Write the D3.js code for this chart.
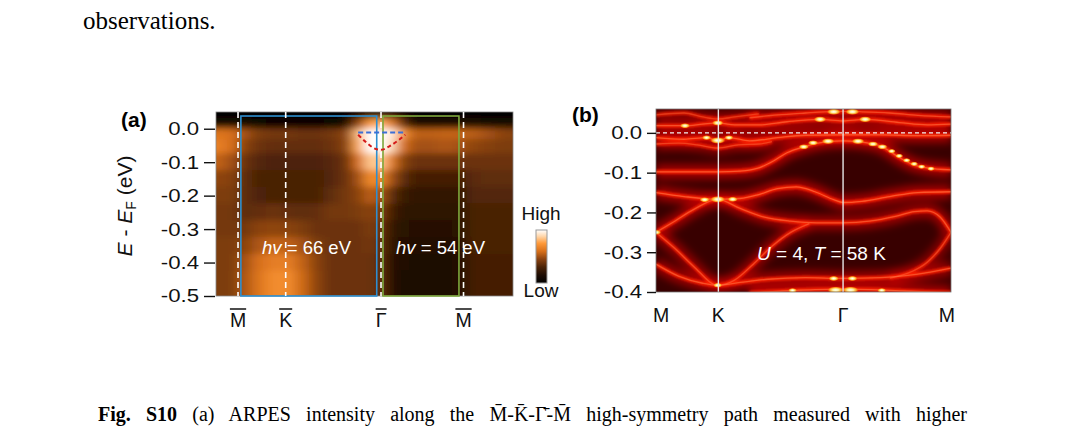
<!DOCTYPE html>
<html>
<head>
<meta charset="utf-8">
<script src="https://cdn.jsdelivr.net/npm/d3@7"></script>
<style>
  body { margin: 0; background: #fff; }
  svg { display: block; }
</style>
</head>
<body>
<svg id="fig" width="1080" height="444"></svg>
<script>
// ---------- data ----------
const bodyText = "observations.";
const captionBold = "Fig. S10";
const captionRest = " (a) ARPES intensity along the M\u0304-K\u0304-\u0393\u0304-M\u0304 high-symmetry path measured with higher";

// high-symmetry path, k in units along M-K-Γ-M
const pathLabels = ["M", "K", "\u0393", "M"];
const pathK = [0, 1 / 3, 1, 1.577];

// (a) ARPES map, intensity 0 (low) .. 1 (high)
const arpesK = [-0.15, -0.05, 0.05, 0.15, 0.25, 0.35, 0.45, 0.55, 0.65, 0.75, 0.85, 0.92,
                1.0, 1.08, 1.15, 1.25, 1.35, 1.45, 1.55, 1.65, 1.75, 1.85, 1.92];
const arpesE = [0.045, 0.015, -0.015, -0.05, -0.1, -0.15, -0.2, -0.25, -0.3, -0.35, -0.4, -0.45, -0.5];
const arpesI = [
  [0, 0, 0, 0, 0, 0, 0, 0, 0, 0, 0.02, 0.08, 0.1, 0.06, 0.02, 0, 0, 0, 0, 0, 0, 0, 0],
  [0.12, 0.12, 0.1, 0.08, 0.06, 0.06, 0.06, 0.06, 0.08, 0.12, 0.45, 0.75, 0.8, 0.65, 0.35, 0.15, 0.14, 0.14, 0.14, 0.14, 0.12, 0.1, 0.1],
  [0.62, 0.6, 0.5, 0.42, 0.4, 0.4, 0.38, 0.38, 0.4, 0.45, 0.82, 1.0, 1.0, 0.95, 0.72, 0.55, 0.55, 0.56, 0.56, 0.54, 0.5, 0.46, 0.44],
  [0.66, 0.6, 0.45, 0.38, 0.36, 0.36, 0.36, 0.36, 0.38, 0.44, 0.78, 1.0, 1.0, 0.9, 0.6, 0.5, 0.5, 0.52, 0.5, 0.46, 0.44, 0.42, 0.42],
  [0.56, 0.5, 0.38, 0.32, 0.31, 0.31, 0.31, 0.31, 0.33, 0.38, 0.6, 0.85, 0.85, 0.65, 0.45, 0.38, 0.38, 0.38, 0.38, 0.38, 0.38, 0.38, 0.38],
  [0.46, 0.44, 0.35, 0.3, 0.3, 0.3, 0.3, 0.3, 0.32, 0.38, 0.5, 0.7, 0.68, 0.5, 0.35, 0.28, 0.28, 0.28, 0.28, 0.34, 0.35, 0.35, 0.35],
  [0.42, 0.42, 0.35, 0.31, 0.3, 0.3, 0.3, 0.3, 0.35, 0.4, 0.45, 0.55, 0.5, 0.35, 0.25, 0.22, 0.22, 0.22, 0.22, 0.32, 0.32, 0.32, 0.32],
  [0.4, 0.4, 0.35, 0.36, 0.38, 0.36, 0.35, 0.36, 0.4, 0.4, 0.42, 0.45, 0.42, 0.28, 0.2, 0.2, 0.2, 0.2, 0.2, 0.3, 0.3, 0.3, 0.3],
  [0.4, 0.4, 0.4, 0.45, 0.46, 0.45, 0.42, 0.38, 0.38, 0.38, 0.38, 0.42, 0.38, 0.22, 0.19, 0.18, 0.18, 0.18, 0.19, 0.3, 0.3, 0.3, 0.3],
  [0.42, 0.42, 0.45, 0.52, 0.56, 0.55, 0.5, 0.42, 0.38, 0.38, 0.38, 0.4, 0.36, 0.2, 0.18, 0.17, 0.17, 0.17, 0.18, 0.3, 0.3, 0.3, 0.3],
  [0.42, 0.42, 0.5, 0.6, 0.65, 0.65, 0.56, 0.45, 0.38, 0.38, 0.38, 0.38, 0.35, 0.18, 0.16, 0.15, 0.15, 0.15, 0.17, 0.28, 0.28, 0.28, 0.28],
  [0.42, 0.42, 0.52, 0.62, 0.7, 0.7, 0.58, 0.46, 0.38, 0.38, 0.38, 0.38, 0.35, 0.18, 0.15, 0.15, 0.15, 0.15, 0.17, 0.28, 0.28, 0.28, 0.28],
  [0.42, 0.42, 0.52, 0.62, 0.7, 0.7, 0.58, 0.46, 0.38, 0.38, 0.38, 0.38, 0.35, 0.18, 0.15, 0.15, 0.15, 0.15, 0.17, 0.28, 0.28, 0.28, 0.28]
];
const colourStops = [0, 0.15, 0.3, 0.45, 0.6, 0.75, 0.88, 1];
const colourValues = ["#000000", "#1e0d03", "#4a2206", "#8a4210", "#d8701a", "#ff9a3a", "#ffd6aa", "#ffffff"];

const aTicks = [0, -0.1, -0.2, -0.3, -0.4, -0.5];
const aTickLabels = ["0.0", "-0.1", "-0.2", "-0.3", "-0.4", "-0.5"];
const box66K = [0.02, 0.97];
const box54K = [1.014, 1.545];
const boxE = [-0.5, 0.038];
const redK = [0.84, 0.9, 0.96, 1.0, 1.06, 1.12, 1.17];
const redE = [-0.018, -0.042, -0.06, -0.063, -0.052, -0.035, -0.018];
const blueK = [0.84, 1.17];
const blueE = [-0.011, -0.011];

// (b) calculated bands, [k, E] pairs
const bandTop = [[0.5, 0.038], [0.65, 0.045], [0.8, 0.05], [0.9, 0.053], [1.0, 0.054], [1.1, 0.053], [1.25, 0.05], [1.4, 0.044], [1.577, 0.04]];
const bandTopLeft = [[0, 0.045], [0.15, 0.05], [0.25, 0.04], [0.33, 0.035], [0.42, 0.04], [0.55, 0.048]];
const bandU1 = [[0, 0.018], [0.155, 0.018], [0.25, 0.022], [0.33, 0.025], [0.42, 0.02], [0.55, 0.02], [0.7, 0.028], [0.877, 0.034], [1.0, 0.03], [1.118, 0.034], [1.3, 0.026], [1.45, 0.02], [1.577, 0.022]];
const bandD1 = [[0, -0.012], [0.15, -0.016], [0.27, -0.012], [0.33, -0.019], [0.39, -0.012], [0.5, -0.02], [0.65, -0.012], [0.8, -0.006], [1.0, -0.005], [1.2, -0.005], [1.4, -0.007], [1.577, -0.006]];
const bandD2 = [[0, -0.028], [0.12, -0.026], [0.22, -0.03], [0.33, -0.038], [0.44, -0.03], [0.55, -0.028], [0.62, -0.022]];
const bandDome = [[0, -0.098], [0.2, -0.098], [0.33, -0.098], [0.45, -0.096], [0.55, -0.088], [0.63, -0.07], [0.7, -0.05], [0.79, -0.035], [0.92, -0.022], [1.0, -0.02], [1.08, -0.022], [1.21, -0.035], [1.3, -0.062], [1.37, -0.079], [1.45, -0.088], [1.577, -0.093]];
const bandMid = [[0, -0.15], [0.15, -0.16], [0.33, -0.167], [0.45, -0.165], [0.55, -0.155], [0.65, -0.14], [0.75, -0.136], [0.85, -0.148], [0.95, -0.168], [1.0, -0.175], [1.1, -0.172], [1.25, -0.16], [1.4, -0.15], [1.577, -0.148]];
const bandLow = [[0, -0.25], [0.1, -0.222], [0.2, -0.193], [0.33, -0.167], [0.45, -0.19], [0.58, -0.212], [0.72, -0.222], [0.86, -0.226], [1.0, -0.226], [1.14, -0.222], [1.28, -0.21], [1.38, -0.198], [1.45, -0.196], [1.52, -0.212], [1.577, -0.25]];
const bandArc = [[0, -0.25], [0.1, -0.29], [0.2, -0.335], [0.33, -0.383], [0.42, -0.37], [0.52, -0.33], [0.62, -0.285], [0.72, -0.25], [0.82, -0.228]];
const bandBottom = [[0, -0.33], [0.12, -0.36], [0.25, -0.378], [0.33, -0.383], [0.45, -0.376], [0.6, -0.368], [0.8, -0.364], [1.0, -0.366], [1.2, -0.364], [1.4, -0.355], [1.577, -0.34]];
const bandFloor = [[0.5, -0.402], [0.7, -0.397], [0.85, -0.394], [1.0, -0.393], [1.15, -0.394], [1.3, -0.397], [1.45, -0.4], [1.577, -0.402]];
const bandRight = [[1.25, -0.365], [1.35, -0.352], [1.45, -0.325], [1.52, -0.29], [1.577, -0.25]];
const bands = [bandTop, bandTopLeft, bandU1, bandD1, bandD2, bandDome, bandMid, bandLow, bandArc, bandBottom, bandFloor, bandRight];
const bandWeight = [0.7, 0.5, 0.8, 0.9, 0.6, 0.9, 0.9, 0.8, 0.7, 0.8, 0.9, 0.6];

// bright spots on the bands: [k, E, strength]
const brightSpots = [
  [0.155, 0.018, 0.5], [0.33, 0.025, 0.6], [0.33, -0.019, 0.9], [0.27, -0.012, 0.4], [0.39, -0.012, 0.4],
  [0.33, -0.167, 0.9], [0.26, -0.168, 0.5], [0.41, -0.167, 0.5],
  [0.877, 0.034, 0.7], [1.118, 0.034, 0.7], [0.95, 0.053, 0.8], [1.05, 0.053, 0.8],
  [0.79, -0.035, 0.5], [0.84, -0.025, 0.5], [0.92, -0.021, 0.7], [1.08, -0.021, 0.7], [1.16, -0.028, 0.5], [1.21, -0.035, 0.5],
  [1.26, -0.046, 0.3], [1.3, -0.058, 0.3], [1.34, -0.069, 0.3], [1.38, -0.078, 0.3], [1.42, -0.085, 0.3], [1.47, -0.09, 0.3],
  [0.95, -0.366, 0.5], [1.05, -0.366, 0.5], [0.96, -0.395, 1], [1.04, -0.395, 1],
  [0.73, -0.396, 0.4], [1.207, -0.396, 0.4], [0, -0.25, 0.5], [0.33, -0.383, 0.4]
];
const bTicks = [0, -0.1, -0.2, -0.3, -0.4];
const bTickLabels = ["0.0", "-0.1", "-0.2", "-0.3", "-0.4"];

// ---------- drawing ----------
const sans = '"Liberation Sans", Arial, Helvetica, sans-serif';
const serif = '"Liberation Serif", "Times New Roman", serif';
const svg = d3.select("#fig");
const defs = svg.append("defs");

// page text
svg.append("text")
    .attr("x", 83).attr("y", 29)
    .attr("font-family", serif).attr("font-size", 25)
    .text(bodyText);

const cap = svg.append("text")
    .attr("x", 98).attr("y", 421)
    .attr("font-family", serif).attr("font-size", 20);
cap.append("tspan").attr("font-weight", "bold").text(captionBold);
cap.append("tspan").text(captionRest);
// justify the caption line like the page
const naturalWidth = cap.node().getComputedTextLength();
const nSpaces = (captionBold + captionRest).split(" ").length - 1;
cap.style("word-spacing", ((967 - 98 - naturalWidth) / nSpaces) + "px");

function addAxis(g, scale, ticks, labels, size) {
    g.call(d3.axisLeft(scale).tickValues(ticks).tickSize(size).tickPadding(4)
        .tickFormat((d, i) => labels[i]));
    g.attr("font-family", null).attr("font-size", null);
    g.select(".domain").remove();
    g.selectAll(".tick line").attr("stroke", "#111").attr("stroke-width", 1.4);
    g.selectAll(".tick text")
        .attr("font-family", sans).attr("font-size", 18.5).attr("fill", "#111")
        .attr("x", -(size + 5) / 1.2)
        .attr("transform", "scale(1.2,1)");
}

function addPathLabels(g, scale, y, overline) {
    pathLabels.forEach((lab, i) => {
        const t = g.append("text")
            .attr("x", scale(pathK[i]))
            .attr("y", y)
            .attr("text-anchor", "middle")
            .attr("font-family", sans).attr("font-size", 19.5).attr("fill", "#111")
            .text(lab);
        if (overline) {
            const bb = t.node().getBBox();
            g.append("line")
                .attr("x1", bb.x).attr("x2", bb.x + bb.width)
                .attr("y1", y - 18).attr("y2", y - 18)
                .attr("stroke", "#111").attr("stroke-width", 1.5);
        }
    });
}

// ----- panel (a) -----
const xa = d3.scaleLinear().domain([-0.154, 1.923]).range([216, 513]);
const ya = d3.scaleLinear().domain([-0.5, 0.05]).range([296, 112]);
const colour = d3.scaleLinear().domain(colourStops).range(colourValues).clamp(true);

defs.append("clipPath").attr("id", "clipA")
    .append("rect")
    .attr("x", xa.range()[0]).attr("y", ya.range()[1])
    .attr("width", xa.range()[1] - xa.range()[0])
    .attr("height", ya.range()[0] - ya.range()[1]);
defs.append("filter").attr("id", "smoothA")
    .attr("x", "-10%").attr("y", "-10%").attr("width", "120%").attr("height", "120%")
    .append("feGaussianBlur").attr("stdDeviation", "6 3");

function edges(vals, sc, lo, hi) {
    return vals.map((v, i) => {
        const a = i === 0 ? lo : (sc(vals[i - 1]) + sc(v)) / 2;
        const b = i === vals.length - 1 ? hi : (sc(v) + sc(vals[i + 1])) / 2;
        return [Math.min(a, b), Math.max(a, b)];
    });
}
const colEdges = edges(arpesK, xa, xa.range()[0] - 25, xa.range()[1] + 25);
const rowEdges = edges(arpesE, ya, ya.range()[1] - 25, ya.range()[0] + 25);
const cells = [];
arpesI.forEach((row, j) => row.forEach((v, i) => cells.push({ i, j, v })));

const gA = svg.append("g");
const mapA = gA.append("g").attr("clip-path", "url(#clipA)");
mapA.append("rect")
    .attr("x", 200).attr("y", 100).attr("width", 330).attr("height", 210)
    .attr("fill", "#1a0b02");
mapA.append("g").attr("filter", "url(#smoothA)")
    .selectAll("rect").data(cells).join("rect")
    .attr("x", d => colEdges[d.i][0] - 0.5)
    .attr("y", d => rowEdges[d.j][0] - 0.5)
    .attr("width", d => colEdges[d.i][1] - colEdges[d.i][0] + 1)
    .attr("height", d => rowEdges[d.j][1] - rowEdges[d.j][0] + 1)
    .attr("fill", d => colour(d.v));

gA.append("rect")
    .attr("x", xa.range()[0]).attr("y", ya.range()[1])
    .attr("width", xa.range()[1] - xa.range()[0])
    .attr("height", ya.range()[0] - ya.range()[1])
    .attr("fill", "none").attr("stroke", "#888").attr("stroke-width", 0.8);

// photon-energy windows
[[box66K, "#2e8fcf"], [box54K, "#7ea83c"]].forEach(([kr, c]) => {
    gA.append("rect")
        .attr("x", xa(kr[0])).attr("y", ya(boxE[1]))
        .attr("width", xa(kr[1]) - xa(kr[0]))
        .attr("height", ya(boxE[0]) - ya(boxE[1]))
        .attr("fill", "none").attr("stroke", c).attr("stroke-width", 1.6);
});

// high-symmetry dashed lines
gA.selectAll(".sym").data(pathK).join("line")
    .attr("x1", d => xa(d)).attr("x2", d => xa(d))
    .attr("y1", ya.range()[1]).attr("y2", ya.range()[0])
    .attr("stroke", "#fff").attr("stroke-width", 1.6)
    .attr("stroke-dasharray", "6,4");

const lineA = d3.line().x(d => xa(d[0])).y(d => ya(d[1])).curve(d3.curveMonotoneX);
gA.append("path")
    .attr("d", lineA(redK.map((k, i) => [k, redE[i]])))
    .attr("fill", "none").attr("stroke", "#d41a1a").attr("stroke-width", 2)
    .attr("stroke-dasharray", "4,3");
gA.append("path")
    .attr("d", lineA(blueK.map((k, i) => [k, blueE[i]])))
    .attr("fill", "none").attr("stroke", "#3b6fd6").attr("stroke-width", 2)
    .attr("stroke-dasharray", "5,3");

function hvLabel(x, energy) {
    const t = gA.append("text")
        .attr("x", x).attr("y", 254)
        .attr("font-family", sans).attr("font-size", 18.5).attr("fill", "#fff");
    t.append("tspan").attr("font-style", "italic").text("hv");
    t.append("tspan").text(" = " + energy + " eV");
}
hvLabel(262, 66);
hvLabel(396, 54);

addAxis(svg.append("g").attr("transform", "translate(215,0)"), ya, aTicks, aTickLabels, 11);
addPathLabels(svg.append("g"), xa, 327, true);

const yLab = svg.append("text")
    .attr("transform", "translate(132,206) rotate(-90)")
    .attr("text-anchor", "middle")
    .attr("font-family", sans).attr("font-size", 21).attr("fill", "#111");
yLab.append("tspan").attr("font-style", "italic").text("E");
yLab.append("tspan").text(" - ");
yLab.append("tspan").attr("font-style", "italic").text("E");
yLab.append("tspan").attr("font-size", 14).attr("dy", 4).text("F");
yLab.append("tspan").attr("dy", -4).text(" (eV)");

svg.append("text").attr("x", 121).attr("y", 127)
    .attr("font-family", sans).attr("font-size", 21).attr("font-weight", "bold")
    .text("(a)");

// colour bar
const grad = defs.append("linearGradient").attr("id", "barGrad")
    .attr("x1", "0%").attr("x2", "0%").attr("y1", "100%").attr("y2", "0%");
colourStops.forEach((s, i) => grad.append("stop")
    .attr("offset", (s * 100) + "%").attr("stop-color", colourValues[i]));
svg.append("rect")
    .attr("x", 536).attr("y", 230).attr("width", 11).attr("height", 53)
    .attr("fill", "url(#barGrad)").attr("stroke", "#999").attr("stroke-width", 1);
svg.append("text").attr("x", 541).attr("y", 220).attr("text-anchor", "middle")
    .attr("font-family", sans).attr("font-size", 19).attr("fill", "#111").text("High");
svg.append("text").attr("x", 541).attr("y", 297).attr("text-anchor", "middle")
    .attr("font-family", sans).attr("font-size", 19).attr("fill", "#111").text("Low");

// ----- panel (b) -----
const xb = d3.scaleLinear().domain([0, 1.577]).range([656, 951]);
const yb = d3.scaleLinear().domain([-0.4, 0.06]).range([292, 109]);

defs.append("clipPath").attr("id", "clipB")
    .append("rect")
    .attr("x", xb.range()[0]).attr("y", yb.range()[1])
    .attr("width", xb.range()[1] - xb.range()[0])
    .attr("height", yb.range()[0] - yb.range()[1]);
defs.append("filter").attr("id", "glowB")
    .attr("x", "-20%").attr("y", "-20%").attr("width", "140%").attr("height", "140%")
    .append("feGaussianBlur").attr("stdDeviation", 4);
defs.append("filter").attr("id", "softB")
    .append("feGaussianBlur").attr("stdDeviation", 1);
const spotGrad = defs.append("radialGradient").attr("id", "spotGrad");
[[0, "#ffffff", 1], [0.35, "#fff2a0", 1], [0.7, "#ffb020", 0.85], [1, "#ff4000", 0]].forEach(s =>
    spotGrad.append("stop").attr("offset", s[0]).attr("stop-color", s[1]).attr("stop-opacity", s[2]));

const gB = svg.append("g").attr("clip-path", "url(#clipB)");
gB.append("rect")
    .attr("x", xb.range()[0]).attr("y", yb.range()[1])
    .attr("width", xb.range()[1] - xb.range()[0])
    .attr("height", yb.range()[0] - yb.range()[1])
    .attr("fill", "#380000");

const lineB = d3.line().x(d => xb(d[0])).y(d => yb(d[1])).curve(d3.curveMonotoneX);
gB.append("g").attr("filter", "url(#glowB)")
    .selectAll("path").data(bands).join("path")
    .attr("d", lineB).attr("fill", "none")
    .attr("stroke", "#dc0000").attr("stroke-width", 14)
    .attr("stroke-opacity", (d, i) => 0.75 * bandWeight[i]);
gB.append("g").attr("filter", "url(#softB)")
    .selectAll("path").data(bands).join("path")
    .attr("d", lineB).attr("fill", "none")
    .attr("stroke", "#ff2200").attr("stroke-width", 4)
    .attr("stroke-opacity", (d, i) => 0.5 + 0.5 * bandWeight[i]);
gB.append("g")
    .selectAll("path").data(bands).join("path")
    .attr("d", lineB).attr("fill", "none")
    .attr("stroke", "#ff7a48").attr("stroke-width", 1.3)
    .attr("stroke-opacity", (d, i) => 0.65 * bandWeight[i]);

const spotR = d3.scaleLinear().domain([0, 1]).range([2.2, 8.5]);
gB.append("g")
    .selectAll("ellipse").data(brightSpots).join("ellipse")
    .attr("cx", d => xb(d[0])).attr("cy", d => yb(d[1]))
    .attr("rx", d => spotR(d[2])).attr("ry", d => 1.8 + 1.8 * d[2])
    .attr("fill", "url(#spotGrad)");

// Fermi level and high-symmetry lines
gB.append("line")
    .attr("x1", xb.range()[0]).attr("x2", xb.range()[1])
    .attr("y1", yb(0)).attr("y2", yb(0))
    .attr("stroke", "#f2f2f2").attr("stroke-width", 1.2).attr("stroke-dasharray", "4,3");
gB.selectAll(".sym").data(pathK.slice(1, 3)).join("line")
    .attr("x1", d => xb(d)).attr("x2", d => xb(d))
    .attr("y1", yb.range()[1]).attr("y2", yb.range()[0])
    .attr("stroke", "#e6e6e6").attr("stroke-width", 1.4);

const uLab = gB.append("text")
    .attr("x", 757).attr("y", 260)
    .attr("font-family", sans).attr("font-size", 19).attr("fill", "#fff");
uLab.append("tspan").attr("font-style", "italic").text("U");
uLab.append("tspan").text(" = 4, ");
uLab.append("tspan").attr("font-style", "italic").text("T");
uLab.append("tspan").text(" = 58 K");

svg.append("rect")
    .attr("x", xb.range()[0]).attr("y", yb.range()[1])
    .attr("width", xb.range()[1] - xb.range()[0])
    .attr("height", yb.range()[0] - yb.range()[1])
    .attr("fill", "none").attr("stroke", "#777").attr("stroke-width", 0.8);

addAxis(svg.append("g").attr("transform", "translate(656,0)"), yb, bTicks, bTickLabels, 9);
const gBl = svg.append("g");
addPathLabels(gBl, xb, 322, false);
gBl.selectAll("text")
    .attr("text-anchor", (d, i, n) => i === 0 ? "start" : i === n.length - 1 ? "end" : "middle")
    .attr("dx", (d, i, n) => i === 0 ? -3 : i === n.length - 1 ? 4 : 0);

svg.append("text").attr("x", 572).attr("y", 122)
    .attr("font-family", sans).attr("font-size", 21).attr("font-weight", "bold")
    .text("(b)");
</script>
</body>
</html>
